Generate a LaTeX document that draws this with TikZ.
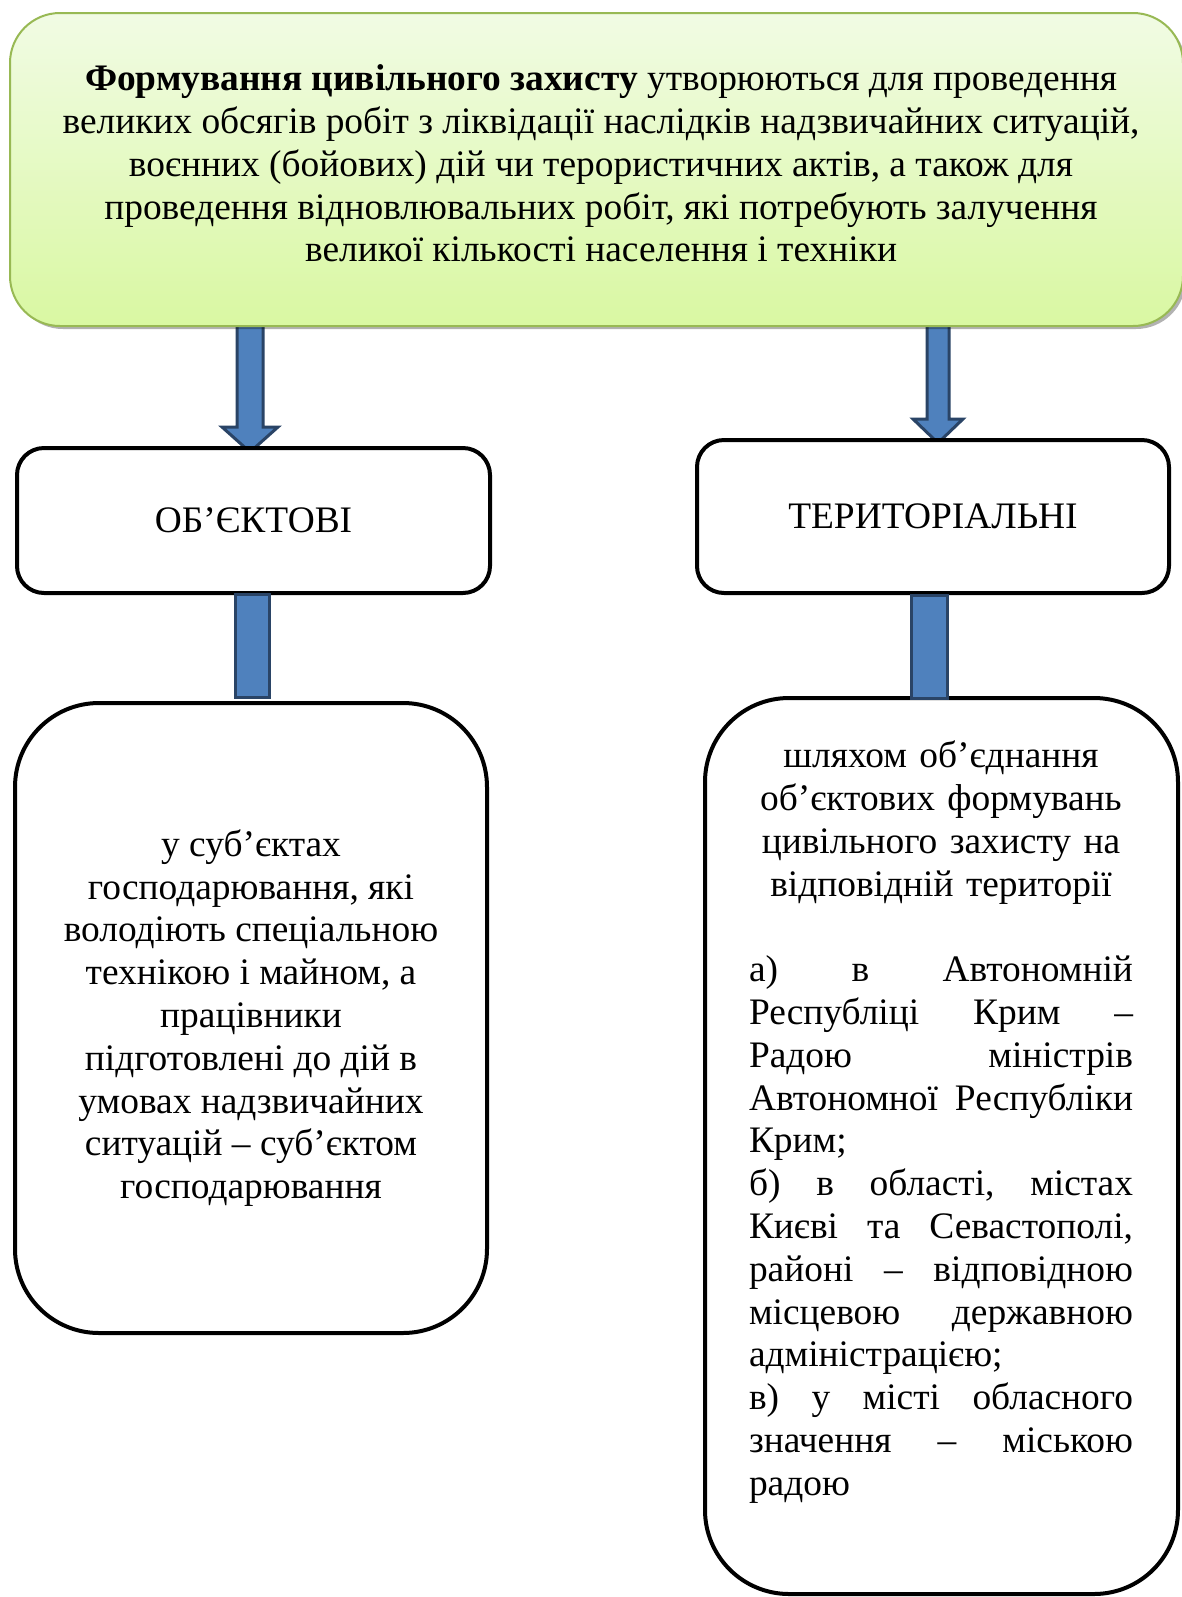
\documentclass[tikz,border=0pt]{standalone}
\usepackage{fontspec}
\setmainfont{Liberation Serif}
\usetikzlibrary{calc,shadows}
\definecolor{topA}{HTML}{F1FBE4}
\definecolor{topB}{HTML}{D9F8A2}
\definecolor{topBorder}{HTML}{98B954}
\definecolor{arrowFill}{HTML}{4F81BD}
\definecolor{arrowEdge}{HTML}{2A4466}
\newlength\jw
\setlength\jw{192pt}
\newcommand\jline[1]{\leavevmode\hbox to \jw{#1}}
\newcommand\blockarrow[5]{%
  \draw[barrow] ($(#1)+(-#3,0)$) -- ($(#2)+(-#3,-#5)$) -- ($(#2)+(-#4,-#5)$) -- (#2)
    -- ($(#2)+(#4,-#5)$) -- ($(#2)+(#3,-#5)$) -- ($(#1)+(#3,0)$) -- cycle;}
\begin{document}
\begin{tikzpicture}[x=0.5pt,y=-0.5pt,
  txt/.style={font=\fontsize{18.7pt}{21.4pt}\selectfont, align=center, inner sep=0pt},
  topbox/.style={draw=topBorder, line width=1pt, rounded corners=25pt,
     top color=topA, bottom color=topB,
     drop shadow={shadow xshift=1.5pt, shadow yshift=-1.5pt, fill=black, opacity=0.3}},
  catbox/.style={txt, draw=black, line width=2pt, fill=white, rounded corners=13.5pt},
  subbox/.style={txt, draw=black, line width=2pt, fill=white, rounded corners=42pt},
  barrow/.style={draw=arrowEdge, fill=arrowFill, line width=1.5pt, line join=miter}
]
\useasboundingbox (0,0) rectangle (1182,1597);
\fill[white] (0,0) rectangle (1182,1597);

% arrows from top box
\coordinate (a1s) at (250,320);
\coordinate (a1e) at (250,452);
\coordinate (a2s) at (938,320);
\coordinate (a2e) at (938,443);
\blockarrow{a1s}{a1e}{13}{28}{25}
\blockarrow{a2s}{a2e}{11}{25}{24}

\node[topbox, minimum width=586.5pt, minimum height=156.5pt] (top) at (596.5,169.5) {};
\node[txt] (toptext) at (601,163.5) {%
\textbf{Формування цивільного захисту} утворюються для проведення\\
великих обсягів робіт з ліквідації наслідків надзвичайних ситуацій,\\
воєнних (бойових) дій чи терористичних актів, а також для\\
проведення відновлювальних робіт, які потребують залучення\\
великої кількості населення і техніки};

% category boxes
\node[catbox, minimum width=236.5pt, minimum height=72.5pt] (objbox) at (253.5,520.5) {ОБ’ЄКТОВІ};
\node[catbox, minimum width=236pt, minimum height=76.5pt] (terbox) at (933,516.5) {ТЕРИТОРІАЛЬНІ};

% lower boxes
\node[subbox, minimum width=236pt, minimum height=315pt] (objsub) at (251,1018) {%
у суб’єктах\\
господарювання, які\\
володіють спеціальною\\
технікою і майном, а\\
працівники\\
підготовлені до дій в\\
умовах надзвичайних\\
ситуацій – суб’єктом\\
господарювання};
\node[subbox, minimum width=236.5pt, minimum height=448pt] (tersub) at (941.5,1146) {};

% connecting bars
\draw[barrow] ($(objbox.south)+(-18.5,-1)$) rectangle ($(objsub.north)+(18,-4)$);
\draw[barrow] ($(terbox.south)+(-22,0)$) rectangle ($(tersub.north)+(5.5,2)$);

\node[txt, text width=\jw] (tertext) at (941,1122) {%
шляхом об’єднання\\
об’єктових формувань\\
цивільного захисту на\\
відповідній території\\[21.4pt]
\jline{а)\hfill в\hfill Автономній}\\
\jline{Республіці\hfill Крим\hfill –}\\
\jline{Радою\hfill міністрів}\\
\jline{Автономної\hfill Республіки}\\
\jline{Крим;\hfill}\\
\jline{б)\hfill в\hfill області,\hfill містах}\\
\jline{Києві\hfill та\hfill Севастополі,}\\
\jline{районі\hfill –\hfill відповідною}\\
\jline{місцевою\hfill державною}\\
\jline{адміністрацією;\hfill}\\
\jline{в)\hfill у\hfill місті\hfill обласного}\\
\jline{значення\hfill –\hfill міською}\\
\jline{радою\hfill}};
\end{tikzpicture}
\end{document}
